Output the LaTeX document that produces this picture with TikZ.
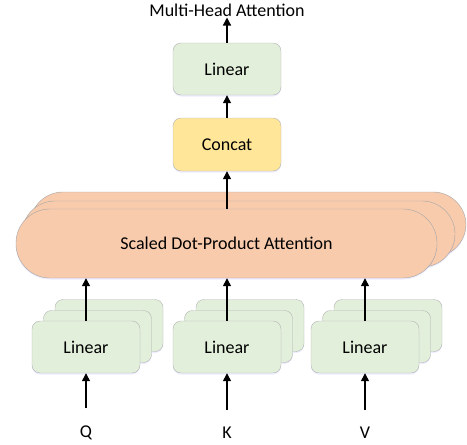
\documentclass[tikz,border=0pt]{standalone}
\usepackage{fontspec}
\setmainfont{Carlito}
\usepackage{tikz}
\usetikzlibrary{arrows.meta, shadows}

\definecolor{lingreen}{HTML}{E2EFDA}
\definecolor{catyellow}{HTML}{FFE699}
\definecolor{attpeach}{HTML}{F8CBAD}
\definecolor{boxline}{HTML}{B4B4B4}
\definecolor{attline}{HTML}{A5A5A5}

\tikzset{
    glow/.style={drop shadow={shadow xshift=0pt, shadow yshift=-1.5pt, fill=blue!40, opacity=0.18}},
    linbox/.style={draw=boxline, fill=lingreen, rounded corners=8pt, minimum width=108pt, minimum height=52pt, glow},
    catbox/.style={linbox, fill=catyellow},
    attbox/.style={draw=attline, fill=attpeach, rounded corners=33pt, glow},
    arr/.style={line width=1.3pt, -{Triangle[width=8pt,length=8pt]}},
}

\begin{document}
\begin{tikzpicture}[x=1pt, y=-1pt, font=\fontsize{18}{21}\selectfont]
    \useasboundingbox (0,0) rectangle (467,445);

    % Q, K, V linear stacks (back to front)
    \foreach \nm/\x in {q/86, k/227, v/365} {
        \node[linbox] (\nm3) at (\x+23,325.5) {};
        \node[linbox] (\nm2) at (\x+11.5,336.5) {};
        \node[linbox] (\nm1) at (\x,347) {Linear};
    }

    % stacked attention heads
    \node[attbox, minimum width=436pt, minimum height=65pt] (att3) at (248,224.5) {};
    \node[attbox, minimum width=433pt, minimum height=66pt] (att2) at (238.5,234) {};
    \node[attbox, minimum width=421pt, minimum height=69pt, rounded corners=34pt] (att1) at (226.5,243.5) {Scaled Dot-Product Attention};

    \node[catbox, minimum height=53pt] (concat) at (227,144.5) {Concat};
    \node[linbox] (linout) at (227,69) {Linear};
    \node[inner sep=1pt] (title) at (227,10) {Multi-Head Attention};

    \node (inq) at (86,433) {Q};
    \node (ink) at (227,433) {K};
    \node (inv) at (365,433) {V};

    \foreach \nm in {q,k,v} {
        \draw[arr, shorten <=14pt] (in\nm) -- (\nm1);
        \draw[arr] (\nm1.north) -- (\nm1.north |- att1.south);
    }
    \draw[arr] (concat.south |- att1.north) -- (concat.south);
    \draw[arr] (concat) -- (linout);
    \draw[arr] (linout) -- (title);
\end{tikzpicture}
\end{document}
